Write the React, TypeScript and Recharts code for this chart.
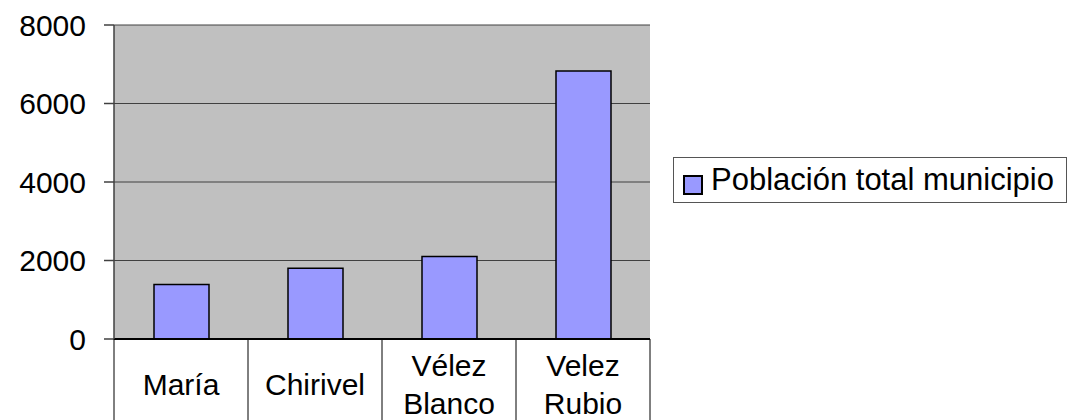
import React from "react";
import {
  BarChart,
  Bar,
  XAxis,
  YAxis,
  CartesianGrid,
  Legend,
} from "recharts";

const categories = ["María", "Chirivel", "Vélez Blanco", "Velez Rubio"];
const populationValues = [1390, 1800, 2100, 6830];
const yTicks = [0, 2000, 4000, 6000, 8000];
const seriesName = "Población total municipio";

const data = categories.map((name, i) => ({ name, value: populationValues[i] }));

const FONT = '"Liberation Sans", Arial, sans-serif';
const CHART_W = 1070;
const CHART_H = 420;

const CategoryTick = (props: any) => {
  const { x, y, payload, index, visibleTicksCount } = props;
  const half = payload && payload.offset ? payload.offset : 67;
  const words = String(payload.value).split(" ");
  const n = words.length;
  const last = index === (visibleTicksCount ?? categories.length) - 1;
  return (
    <g>
      <line x1={x - half} y1={y} x2={x - half} y2={CHART_H} stroke="#000" strokeWidth={1} />
      {last && (
        <line x1={x + half} y1={y} x2={x + half} y2={CHART_H} stroke="#000" strokeWidth={1} />
      )}
      <text textAnchor="middle" fontSize={30} fontFamily={FONT} fill="#000">
        {words.map((w, i) => (
          <tspan key={i} x={x} y={y + 56 + (i - (n - 1) / 2) * 38}>
            {w}
          </tspan>
        ))}
      </text>
    </g>
  );
};

const LegendContent = (props: any) => {
  const items = props.payload || [];
  return (
    <div
      style={{
        width: 394,
        height: 46,
        border: "1px solid #555",
        boxSizing: "border-box",
        background: "#fff",
        display: "flex",
        alignItems: "center",
        fontFamily: FONT,
        fontSize: 31,
        color: "#000",
      }}
    >
      {items.map((it: any, i: number) => (
        <div key={i} style={{ display: "flex", alignItems: "center" }}>
          <span
            style={{
              display: "inline-block",
              width: 16,
              height: 16,
              marginLeft: 9,
              marginRight: 8,
              marginTop: 10,
              background: it.color,
              border: "2px solid #000",
            }}
          />
          <span style={{ whiteSpace: "nowrap" }}>{it.value}</span>
        </div>
      ))}
    </div>
  );
};

export default function App() {
  return (
    <div style={{ width: CHART_W, height: CHART_H, position: "relative" }}>
      <style>{`body{margin:0}`}</style>
      <BarChart
        width={CHART_W}
        height={CHART_H}
        data={data}
        margin={{ top: 25, right: 420, bottom: 0, left: 0 }}
      >
        <CartesianGrid
          vertical={false}
          stroke="#404040"
          strokeWidth={1}
          fill="#C0C0C0"
          fillOpacity={1}
        />
        <XAxis
          dataKey="name"
          height={81}
          interval={0}
          tickSize={0}
          tickMargin={0}
          tickLine={false}
          axisLine={{ stroke: "#000", strokeWidth: 2 }}
          tick={<CategoryTick />}
        />
        <XAxis
          xAxisId="top"
          dataKey="name"
          orientation="top"
          height={0}
          tick={false}
          tickLine={false}
          axisLine={{ stroke: "#808080", strokeWidth: 2 }}
        />
        <YAxis
          width={114}
          domain={[0, 8000]}
          ticks={yTicks}
          interval={0}
          tickSize={10}
          tickMargin={18}
          axisLine={{ stroke: "#404040", strokeWidth: 1.5 }}
          tickLine={{ stroke: "#404040", strokeWidth: 1.5 }}
          tick={{ fontSize: 30, fontFamily: FONT, fill: "#000" }}
        />
        <YAxis
          yAxisId="right"
          orientation="right"
          width={0}
          domain={[0, 8000]}
          tick={false}
          tickLine={false}
          axisLine={{ stroke: "#808080", strokeWidth: 2 }}
        />
        <Legend
          layout="vertical"
          align="center"
          verticalAlign="middle"
          content={<LegendContent />}
          wrapperStyle={{ position: "absolute", left: 673, top: 157, width: 394, height: 46 }}
        />
        <Bar
          dataKey="value"
          name={seriesName}
          fill="#9999FF"
          stroke="#000"
          strokeWidth={1.5}
          barSize={55}
          isAnimationActive={false}
        />
      </BarChart>
    </div>
  );
}
